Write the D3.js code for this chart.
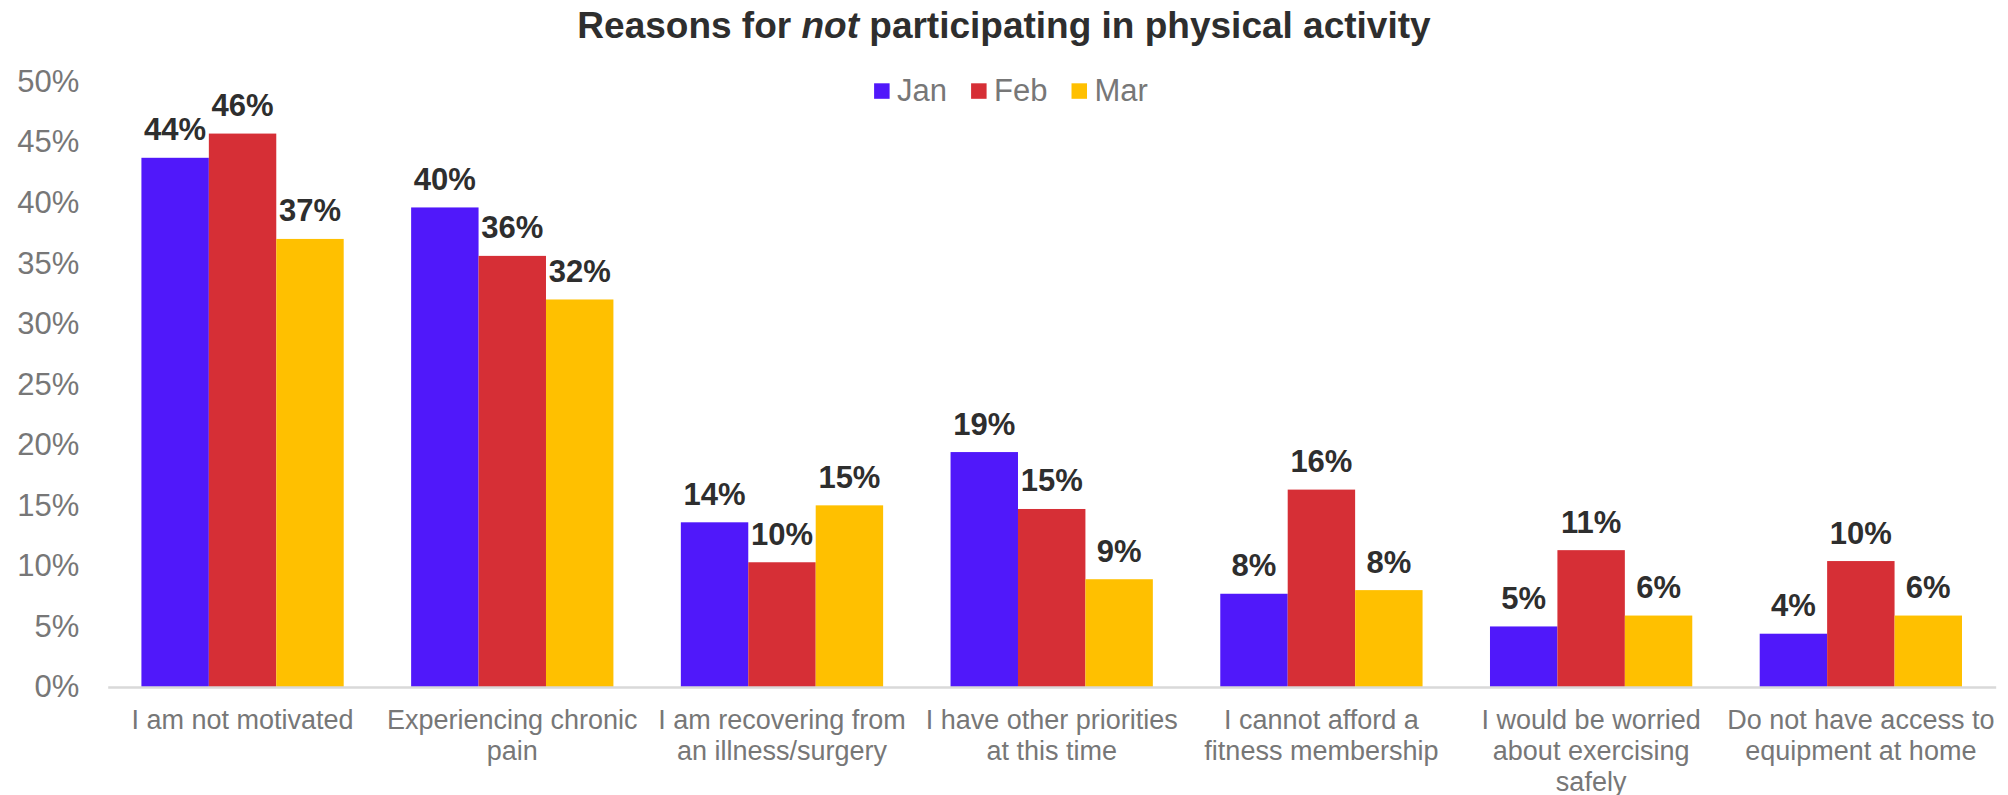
<!DOCTYPE html>
<html>
<head>
<meta charset="utf-8">
<script src="https://cdn.jsdelivr.net/npm/d3@7"></script>
<style>
  html, body { margin: 0; padding: 0; background: #ffffff; }
  svg { display: block; font-family: "Liberation Sans", Arial, Helvetica, sans-serif; }
</style>
</head>
<body>
<svg id="chart" width="2008" height="795"></svg>
<script>
// Survey reasons (line breaks mark where each axis label wraps)
const categories = [
  "I am not motivated",
  "Experiencing chronic\npain",
  "I am recovering from\nan illness/surgery",
  "I have other priorities\nat this time",
  "I cannot afford a\nfitness membership",
  "I would be worried\nabout exercising\nsafely",
  "Do not have access to\nequipment at home"
];

const seriesNames = ["Jan", "Feb", "Mar"];

// Share of respondents (%) per reason, by month
const janValues = [43.7, 39.6, 13.6, 19.4, 7.7, 5.0, 4.4];
const febValues = [45.7, 35.6, 10.3, 14.7, 16.3, 11.3, 10.4];
const marValues = [37.0, 32.0, 15.0, 8.9, 8.0, 5.9, 5.9];

const yTicks = [0, 5, 10, 15, 20, 25, 30, 35, 40, 45, 50];

const colors = ["#5018FA", "#D62F36", "#FFC000"];

const series = [janValues, febValues, marValues];
const rows = categories.map((c, i) => ({
  category: c,
  values: seriesNames.map((s, j) => ({ key: s, value: series[j][i] }))
}));

const svg = d3.select("#chart");
const W = 2008, H = 795;
svg.append("rect").attr("width", W).attr("height", H).attr("fill", "#ffffff");

const plotLeft = 107.7, plotRight = 1995.7, plotTop = 81.5, plotBase = 687;

const x0 = d3.scaleBand()
  .domain(categories)
  .range([plotLeft, plotRight])
  .paddingInner(0.25)
  .paddingOuter(0.125);

const x1 = d3.scaleBand()
  .domain(seriesNames)
  .range([0, x0.bandwidth()]);

const y = d3.scaleLinear().domain([0, 50]).range([plotBase, plotTop]);

const color = d3.scaleOrdinal().domain(seriesNames).range(colors);

// Title with italic emphasis
const title = svg.append("text")
  .attr("x", W / 2)
  .attr("y", 38)
  .attr("text-anchor", "middle")
  .attr("font-size", 37)
  .attr("font-weight", "bold")
  .attr("fill", "#2e2e2e");
title.append("tspan").text("Reasons for ");
title.append("tspan").attr("font-style", "italic").text("not");
title.append("tspan").text(" participating in physical activity");

// Y axis (labels only)
const yAxis = svg.append("g")
  .attr("transform", `translate(${plotLeft},0)`)
  .call(d3.axisLeft(y).tickValues(yTicks).tickSize(0).tickPadding(28.4).tickFormat(d => d + "%"));
yAxis.select(".domain").remove();
yAxis.selectAll("text")
  .attr("font-size", 31)
  .attr("font-family", "Liberation Sans, Arial, sans-serif")
  .attr("fill", "#777777");

// Bars
const groups = svg.append("g").selectAll("g")
  .data(rows)
  .join("g")
  .attr("transform", d => `translate(${x0(d.category)},0)`);

groups.selectAll("rect")
  .data(d => d.values)
  .join("rect")
  .attr("x", d => x1(d.key))
  .attr("width", x1.bandwidth())
  .attr("y", d => y(d.value))
  .attr("height", d => plotBase - y(d.value))
  .attr("fill", d => color(d.key));

// Value labels
groups.selectAll("text.val")
  .data(d => d.values)
  .join("text")
  .attr("class", "val")
  .attr("x", d => x1(d.key) + x1.bandwidth() / 2)
  .attr("y", d => y(d.value) - 17.5)
  .attr("text-anchor", "middle")
  .attr("font-size", 31)
  .attr("font-weight", "bold")
  .attr("fill", "#2e2e2e")
  .text(d => d3.format(".0f")(d.value) + "%");

// X axis with wrapped category labels
const xAxis = svg.append("g")
  .attr("transform", `translate(0,${plotBase})`)
  .call(d3.axisBottom(x0).tickSize(0).tickPadding(0).tickSizeOuter(0));
xAxis.select(".domain")
  .attr("stroke", "#d9d9d9")
  .attr("stroke-width", 2.6);
xAxis.selectAll(".tick text").each(function (d) {
  const t = d3.select(this);
  const lines = d.split("\n");
  t.text(null)
    .attr("font-size", 27)
    .attr("font-family", "Liberation Sans, Arial, sans-serif")
    .attr("fill", "#777777")
    .attr("dy", null)
    .attr("y", 0);
  lines.forEach((ln, i) => {
    t.append("tspan")
      .attr("x", 0)
      .attr("y", 41.5 + i * 31)
      .text(ln);
  });
});

// Legend, centred above the plot
const legend = svg.append("g");
const items = legend.selectAll("g")
  .data(seriesNames)
  .join("g");
items.append("rect")
  .attr("width", 15.5)
  .attr("height", 15.5)
  .attr("y", 83.3)
  .attr("fill", d => color(d));
items.append("text")
  .attr("x", 23)
  .attr("y", 101.3)
  .attr("font-size", 31)
  .attr("fill", "#777777")
  .text(d => d);
let cursor = 0;
const offsets = [];
items.each(function () {
  const w = d3.select(this).select("text").node().getComputedTextLength();
  offsets.push(cursor);
  cursor += 23 + w + 24;
});
const totalW = cursor - 24;
const startX = 1011 - totalW / 2;
items.attr("transform", (d, i) => `translate(${startX + offsets[i]},0)`);
</script>
</body>
</html>
